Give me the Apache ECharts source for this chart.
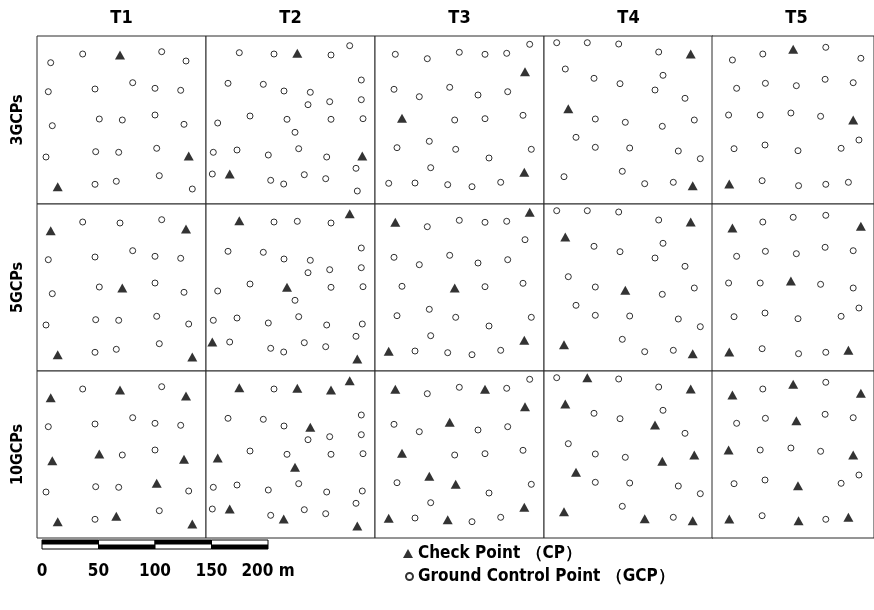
<!DOCTYPE html>
<html>
<head>
<meta charset="utf-8">
<script src="https://cdn.jsdelivr.net/npm/echarts@6/dist/echarts.min.js"></script>
<style>
html, body { margin: 0; padding: 0; background: #fff; }
#chart { width: 874px; height: 610px; }
</style>
</head>
<body>
<div id="chart"></div>
<script>
// ---- data -------------------------------------------------------------
const columnTitles = ['T1', 'T2', 'T3', 'T4', 'T5'];
const rowTitles = ['3GCPs', '5GCPs', '10GCPs'];
const cpName = 'Check Point （CP）';
const gcpName = 'Ground Control Point （GCP）';

// surveyed point positions inside each test area [east, south-from-top]
const t1Points = [
  [13.7, 26.7], [45.7, 18], [83, 19], [124.7, 15.7], [149, 25],
  [11.3, 55.7], [58, 53], [95.7, 46.7], [118, 52.3], [143.7, 54.3],
  [15.3, 89.7], [62.3, 83], [85.3, 84], [118, 79], [147, 88.3],
  [9, 121], [58.7, 115.7], [81.7, 116.3], [119.7, 112.3], [151.7, 120],
  [20.7, 150.7], [58, 148.3], [79.3, 145.3], [122.3, 139.7], [155.3, 153]
];
const t2Points = [
  [33.3, 16.7], [68, 18], [91.3, 17.3], [125, 19], [143.7, 9.7],
  [22, 47.3], [57.3, 48.3], [78, 55], [104.3, 56.3], [102, 68.7],
  [123.7, 65.7], [155.3, 44], [155.3, 63.7], [11.7, 87], [44, 80],
  [81, 83.3], [125, 83.3], [157, 82.7], [89, 96.3], [7.3, 116.3],
  [31, 114], [62.3, 119], [92.7, 112.7], [120.7, 121], [156.3, 120],
  [6.3, 138], [23.7, 138], [64.7, 144.3], [77.7, 148], [98.3, 138.7],
  [119.7, 142.7], [150, 132.3], [151.3, 155]
];
const t3Points = [
  [20.3, 18.3], [52.3, 22.7], [84.3, 16.3], [110, 18.3], [131.7, 17.3],
  [154.7, 8.3], [150, 35.7], [19, 53.3], [44.3, 60.7], [74.7, 51.3],
  [103, 59], [132.7, 55.7], [27, 82.3], [79.7, 84], [110, 82.7],
  [148, 79.3], [22, 111.7], [54.3, 105.3], [80.7, 113.3], [114, 122],
  [156.3, 113.3], [55.7, 131.7], [149.3, 136.3], [13.7, 147.3], [40, 147],
  [72.7, 148.7], [97, 150.7], [125.7, 146.3]
];
const t4Points = [
  [12.7, 6.7], [43.3, 6.7], [74.7, 8], [114.7, 16], [146.7, 18],
  [21.3, 33], [50, 42.3], [76, 47.7], [119, 39.3], [111, 54],
  [141, 62.3], [24.3, 72.7], [51.3, 83], [81.3, 86.3], [118.3, 90.3],
  [150.3, 84], [32, 101.3], [51.3, 111.3], [85.7, 112], [134.3, 115],
  [156.3, 122.7], [20, 140.7], [78.3, 135.3], [100.7, 147.7], [129.3, 146.3],
  [148.7, 149.7]
];
const t5Points = [
  [21.3, 24], [53, 18], [84.7, 13.3], [118.7, 11.3], [155.3, 22.3],
  [25.7, 52.3], [55.7, 47.3], [88, 49.7], [118, 43.3], [147.3, 46.7],
  [17.3, 79], [50.3, 79], [82.3, 77], [113.3, 80.3], [147.3, 84],
  [23, 112.7], [55.3, 109], [89.7, 114.7], [134.7, 112.3], [153.3, 104],
  [18, 148], [52.3, 144.7], [90.3, 149.7], [118.7, 148.3], [142.3, 146.3]
];

// indices of the points kept as check points, one list per GCP configuration
const t1Checks = [[2, 19, 20], [0, 4, 12, 20, 24], [0, 2, 4, 10, 11, 14, 18, 20, 22, 24]];
const t2Checks = [[2, 24, 26], [0, 4, 15, 25, 32], [0, 2, 3, 4, 8, 13, 18, 26, 28, 32]];
const t3Checks = [[6, 12, 22], [0, 5, 13, 22, 23], [0, 3, 6, 9, 12, 17, 18, 22, 23, 25]];
const t4Checks = [[4, 11, 25], [4, 5, 13, 21, 25], [1, 4, 5, 9, 14, 15, 16, 21, 23, 25]];
const t5Checks = [[2, 14, 20], [0, 4, 12, 20, 24], [0, 2, 4, 7, 10, 14, 17, 20, 22, 24]];

// scale bar (metres)
const scaleTicks = [0, 50, 100, 150, 200];

// ---- layout -----------------------------------------------------------
const sites = [
  { pts: t1Points, checks: t1Checks },
  { pts: t2Points, checks: t2Checks },
  { pts: t3Points, checks: t3Checks },
  { pts: t4Points, checks: t4Checks },
  { pts: t5Points, checks: t5Checks }
];
const colLeft = [37, 206, 375, 544, 712];
const colWidth = 169;
const rowTop = [36, 204, 371];
const rowHeight = [168, 167, 167];
const FONT = '"DejaVu Sans Condensed", "Liberation Sans", Arial, sans-serif';

const grid = [], xAxis = [], yAxis = [], series = [], graphic = [];

rowTitles.forEach((rowName, r) => {
  sites.forEach((site, c) => {
    const idx = r * sites.length + c;
    grid.push({
      left: colLeft[c], top: rowTop[r], width: colWidth, height: rowHeight[r],
      show: true, borderColor: '#2a2a2a', borderWidth: 1, backgroundColor: '#fff'
    });
    xAxis.push({ gridIndex: idx, type: 'value', min: 0, max: colWidth, show: false });
    yAxis.push({ gridIndex: idx, type: 'value', min: 0, max: rowHeight[r], inverse: true, show: false });
    const chk = site.checks[r];
    series.push({
      type: 'scatter', name: gcpName, xAxisIndex: idx, yAxisIndex: idx,
      symbol: 'circle', symbolSize: 6, silent: true,
      itemStyle: { color: '#fff', borderColor: '#000', borderWidth: 1 },
      data: site.pts.filter((p, i) => chk.indexOf(i) < 0)
    });
    series.push({
      type: 'scatter', name: cpName, xAxisIndex: idx, yAxisIndex: idx,
      symbol: 'triangle', symbolSize: [10, 9], silent: true,
      itemStyle: { color: '#000' },
      data: site.pts.filter((p, i) => chk.indexOf(i) >= 0)
    });
  });
});

// scale bar on its own metric axis
const sbIdx = grid.length;
grid.push({ left: 42, top: 540, width: 226, height: 9, show: false });
xAxis.push({
  gridIndex: sbIdx, type: 'value', min: 0, max: 200, interval: 50,
  axisLine: { show: false }, axisTick: { show: false }, splitLine: { show: false },
  axisLabel: {
    show: true, margin: 14, color: '#000', fontSize: 17, fontWeight: 'bold', fontFamily: FONT,
    formatter: v => (v === 200 ? v + ' m' : String(v))
  }
});
yAxis.push({ gridIndex: sbIdx, type: 'value', min: 0, max: 2, show: false });
const segs = [];
for (let i = 0; i < scaleTicks.length - 1; i++) segs.push([scaleTicks[i], scaleTicks[i + 1], i % 2]);
series.push({
  type: 'custom', xAxisIndex: sbIdx, yAxisIndex: sbIdx, silent: true,
  data: segs,
  renderItem: (params, api) => {
    const a = api.coord([api.value(0), 2]);
    const b = api.coord([api.value(1), 0]);
    const mid = api.coord([api.value(0), 1]);
    const w = b[0] - a[0];
    const blackTop = api.value(2) === 0;
    return {
      type: 'group',
      children: [
        { type: 'rect', shape: { x: a[0], y: a[1], width: w, height: b[1] - a[1] },
          style: { fill: '#fff', stroke: '#000', lineWidth: 1 } },
        { type: 'rect',
          shape: blackTop ? { x: a[0], y: a[1], width: w, height: mid[1] - a[1] }
                          : { x: a[0], y: mid[1], width: w, height: b[1] - mid[1] },
          style: { fill: '#000' } }
      ]
    };
  }
});

// column and row headings
columnTitles.forEach((t, c) => {
  graphic.push({
    type: 'text', x: colLeft[c] + colWidth / 2, y: 18, silent: true,
    style: { text: t, font: 'bold 18px ' + FONT, fill: '#000', align: 'center', verticalAlign: 'middle' }
  });
});
rowTitles.forEach((t, r) => {
  graphic.push({
    type: 'text', x: 18, y: rowTop[r] + rowHeight[r] / 2, rotation: Math.PI / 2, silent: true,
    style: { text: t, font: 'bold 16px ' + FONT, fill: '#000', align: 'center', verticalAlign: 'middle' }
  });
});

const chart = echarts.init(document.getElementById('chart'), null, { renderer: 'canvas' });
chart.setOption({
  animation: false,
  backgroundColor: '#fff',
  grid, xAxis, yAxis, series, graphic,
  legend: [
    {
      data: [{ name: cpName, icon: 'triangle' }],
      left: 398, top: 540, itemWidth: 10, itemHeight: 9, itemGap: 6, selectedMode: false,
      textStyle: { color: '#000', fontSize: 17, fontWeight: 'bold', fontFamily: FONT }
    },
    {
      data: [{ name: gcpName, icon: 'circle' }],
      left: 400, top: 563, itemWidth: 7, itemHeight: 7, itemGap: 6, selectedMode: false,
      textStyle: { color: '#000', fontSize: 17, fontWeight: 'bold', fontFamily: FONT }
    }
  ]
});
</script>
</body>
</html>
